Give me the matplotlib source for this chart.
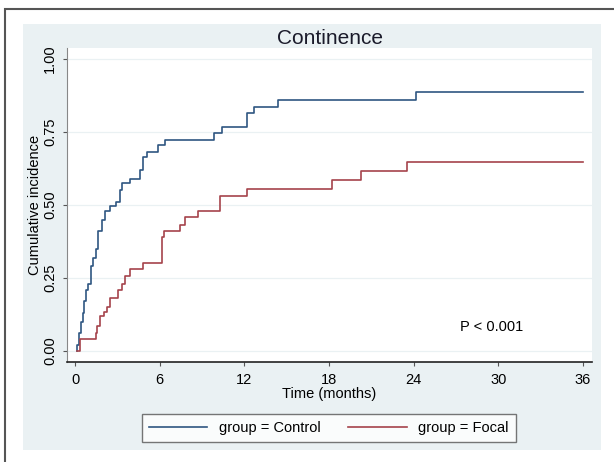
import matplotlib.pyplot as plt
from matplotlib.patches import Rectangle

plt.rcParams['font.family'] = ['Liberation Sans', 'DejaVu Sans']

# Dane - skumulowana częstość
control_t = [0.17, 0.17, 0.25, 0.40, 0.55, 0.65, 0.80, 0.95, 1.10, 1.25, 1.45, 1.65, 1.90,
             2.10, 2.50, 2.90, 3.20, 3.35, 3.90, 4.60, 4.85, 5.10, 5.90, 6.35, 9.85, 10.45,
             12.20, 12.70, 14.35, 24.20, 36.0]
control_y = [0.00, 0.02, 0.06, 0.10, 0.13, 0.17, 0.21, 0.23, 0.29, 0.32, 0.35, 0.41, 0.45,
             0.48, 0.495, 0.51, 0.55, 0.575, 0.59, 0.62, 0.665, 0.683, 0.704, 0.724, 0.746, 0.767,
             0.814, 0.837, 0.860, 0.888, 0.888]

focal_t = [0.17, 0.35, 1.45, 1.58, 1.77, 2.05, 2.25, 2.48, 3.07, 3.31, 3.54, 3.90, 4.84,
           6.14, 6.31, 7.44, 7.80, 8.74, 10.28, 12.20, 18.20, 20.30, 23.50, 36.0]
focal_y = [0.00, 0.04, 0.06, 0.085, 0.12, 0.135, 0.15, 0.18, 0.21, 0.23, 0.255, 0.28, 0.30,
           0.39, 0.41, 0.43, 0.46, 0.48, 0.53, 0.556, 0.586, 0.617, 0.648, 0.648]

x_ticks = [0, 6, 12, 18, 24, 30, 36]
y_ticks = [0, 0.25, 0.5, 0.75, 1.0]

fig = plt.figure(figsize=(6.14, 4.62), dpi=100)
W, H = 614, 462

# tło w stylu Stata
fig.patches.append(Rectangle((23 / W, 1 - 450 / H), 578 / W, 426 / H,
                             transform=fig.transFigure, fc='#eaf1f3', ec='none', zorder=-10))
fig.patches.append(Rectangle((5 / W, -0.1), 1.2, 1.1 - 9 / H, transform=fig.transFigure,
                             fill=False, ec='#555555', lw=1.5, zorder=-9))

ax = fig.add_axes([67 / W, 1 - 362 / H, 525 / W, 314 / H])
ax.set_facecolor('white')

ax.step(control_t, control_y, where='post', color='#2f5681', lw=1.2, label='group = Control')
ax.step(focal_t, focal_y, where='post', color='#a5434b', lw=1.2, label='group = Focal')

ax.set_xlim(-0.57, 36.64)
ax.set_ylim(-0.038, 1.038)
ax.set_xticks(x_ticks)
ax.set_yticks(y_ticks)
ax.set_yticklabels([f'{v:.2f}' for v in y_ticks], rotation=90, va='center')
ax.tick_params(axis='both', labelsize=10.5, length=3, width=0.8, color='#555555', pad=4)
ax.tick_params(axis='x', pad=5)
ax.grid(True, axis='y', color='#eaf1f3', lw=0.9)
ax.set_axisbelow(True)

for s in ['top', 'right']:
    ax.spines[s].set_visible(False)
ax.spines['left'].set_color('#888888')
ax.spines['bottom'].set_color('#222222')
ax.spines['bottom'].set_linewidth(1.2)

ax.set_title('Continence', fontsize=15, color='#1a1a2a', pad=3)
ax.set_xlabel('Time (months)', fontsize=10.5, labelpad=0)
ax.set_ylabel('Cumulative incidence', fontsize=10.5, labelpad=1)
ax.text(29.5, 0.082, 'P < 0.001', fontsize=10.5, ha='center', va='center')

leg = fig.legend(loc='center', bbox_to_anchor=(329 / W, 1 - 428 / H), ncol=2, fontsize=10.5,
                 handlelength=4.0, columnspacing=1.9, frameon=True, fancybox=False,
                 edgecolor='#555555', borderpad=0.45)
leg.get_frame().set_linewidth(1.0)

plt.savefig('out.png', dpi=100)
